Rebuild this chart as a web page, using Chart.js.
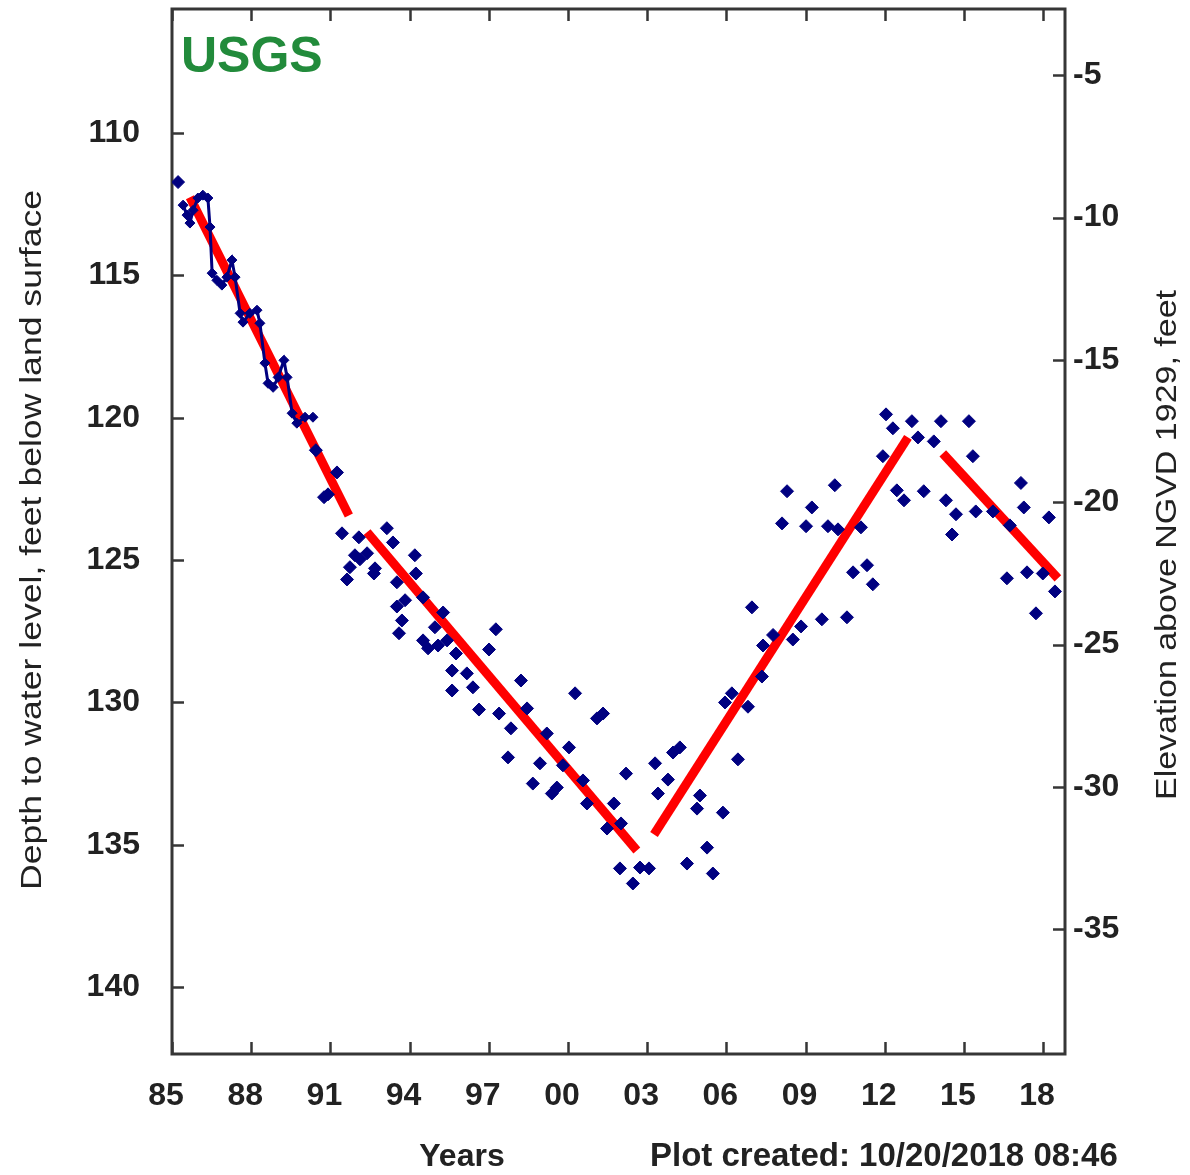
<!DOCTYPE html>
<html>
<head>
<meta charset="utf-8">
<script src="https://cdn.jsdelivr.net/npm/chart.js@4.4.1/dist/chart.umd.min.js"></script>
<style>
  body { margin: 0; background: #fff; }
  #wrap { width: 1190px; height: 1175px; }
</style>
</head>
<body>
<div id="wrap"><canvas id="chart" width="1190" height="1175"></canvas></div>
<script>
// Continuous recorder, 1985-1990 (year, depth below land surface in feet)
const recorderYears = [1985.42, 1985.57, 1985.68, 1985.80, 1985.98, 1986.17, 1986.36, 1986.44, 1986.52, 1986.70,
  1986.89, 1987.08, 1987.27, 1987.39, 1987.58, 1987.69, 1987.95, 1988.22, 1988.33, 1988.52,
  1988.64, 1988.83, 1989.02, 1989.24, 1989.36, 1989.55, 1989.73, 1990.04, 1990.34];
const recorderDepths = [112.53, 112.88, 113.16, 112.71, 112.28, 112.18, 112.28, 113.30, 114.92, 115.17,
  115.34, 115.06, 114.46, 115.06, 116.33, 116.64, 116.33, 116.22, 116.68, 118.08,
  118.79, 118.93, 118.58, 117.98, 118.58, 119.84, 120.19, 119.98, 119.98];

// Periodic field measurements
const fieldYears = [1985.23, 1990.45, 1991.25, 1990.76, 1990.91, 1991.44, 1992.08, 1993.14, 1993.37, 1991.93,
  1992.39, 1992.69, 1991.74, 1991.63, 1992.12, 1992.65, 1994.20, 1994.24, 1993.52, 1993.83,
  1993.52, 1993.71, 1993.60, 1994.51, 1995.27, 1994.96, 1994.51, 1994.70, 1995.08, 1995.42,
  1995.76, 1995.61, 1996.17, 1996.40, 1995.61, 1997.27, 1997.01, 1996.63, 1997.39, 1998.22,
  1998.45, 1997.84, 1997.73, 2000.27, 2001.10, 2001.33, 1999.20, 2000.04, 1998.94, 1999.81,
  1998.67, 1999.58, 1999.39, 2000.57, 2000.72, 2001.74, 2002.20, 2002.01, 2001.48, 2001.97,
  2002.73, 2003.07, 2002.46, 2003.30, 2004.24, 2003.98, 2003.79, 2003.41, 2005.00, 2004.89,
  2005.87, 2005.27, 2004.51, 2005.49, 2006.44, 2005.95, 2006.21, 2006.82, 2007.35, 2006.97,
  2007.77, 2007.39, 2012.05, 2012.31, 2013.03, 2013.26, 2013.86, 2014.13, 2015.19, 2015.34,
  2011.93, 2008.30, 2010.11, 2009.24, 2008.11, 2009.02, 2009.85, 2010.23, 2011.10, 2012.46,
  2012.73, 2013.48, 2014.32, 2014.70, 2014.55, 2015.45, 2016.10, 2016.74, 2017.16, 2017.27,
  2018.22, 2010.80, 2011.33, 2011.55, 2016.63, 2017.39, 2017.99, 2018.45, 2017.73, 2009.62,
  2010.57, 2008.83, 2008.52];
const fieldDepths = [111.72, 121.14, 121.92, 122.79, 122.69, 124.06, 124.20, 123.88, 124.38, 124.83,
  124.76, 125.29, 125.25, 125.68, 124.97, 125.47, 124.83, 125.47, 125.78, 126.41,
  126.63, 127.12, 127.57, 126.31, 126.84, 127.36, 127.82, 128.10, 128.00, 127.82,
  128.28, 128.88, 128.98, 129.47, 129.58, 127.43, 128.14, 130.25, 130.39, 129.23,
  130.21, 130.91, 131.93, 129.68, 130.56, 130.39, 131.09, 131.58, 132.14, 132.21,
  132.85, 132.99, 133.20, 132.74, 133.55, 133.55, 132.50, 134.25, 134.43, 135.83,
  135.80, 135.83, 136.36, 132.14, 131.58, 131.76, 132.71, 133.20, 133.27, 133.73,
  133.87, 135.10, 135.66, 136.01, 132.00, 130.00, 129.68, 130.15, 129.09, 126.66,
  127.63, 128.00, 119.88, 120.37, 120.12, 120.69, 120.83, 120.12, 120.12, 121.35,
  121.35, 122.58, 122.37, 123.15, 123.71, 123.81, 123.81, 123.92, 123.85, 122.55,
  122.90, 122.58, 122.90, 123.39, 124.10, 123.29, 123.29, 123.78, 122.29, 123.15,
  123.50, 125.43, 125.18, 125.85, 125.64, 125.43, 125.47, 126.10, 126.87, 127.08,
  127.01, 127.33, 127.79];

// Red trend segments: start and end of each one
const trendYears = [[1985.68, 1991.70], [1992.39, 2002.61], [2003.26, 2012.88], [2014.20, 2018.56]];
const trendDepths = [[112.25, 123.43], [124.02, 135.20], [134.64, 120.69], [121.25, 125.64]];

// Axes
const yearTicks = [1985, 1988, 1991, 1994, 1997, 2000, 2003, 2006, 2009, 2012, 2015, 2018];
const yearLabels = ["85", "88", "91", "94", "97", "00", "03", "06", "09", "12", "15", "18"];
const depthTicks = [110, 115, 120, 125, 130, 135, 140];
const elevationTicks = [-5, -10, -15, -20, -25, -30, -35];
const yearMin = 1985, yearMax = 2018.83;
const depthMin = 105.64, depthMax = 142.35;
const landSurface = 102.97; // land surface elevation above NGVD 1929, feet

const navy = "#000080";
const frameColor = "#363636";
const textColor = "#222";
const FONT = "'Liberation Sans', Arial, sans-serif";

const toPoints = (xs, ys) => xs.map((x, i) => ({ x: x, y: ys[i] }));

const datasets = [
  {
    label: "Recorder",
    data: toPoints(recorderYears, recorderDepths),
    showLine: true,
    borderColor: navy,
    backgroundColor: navy,
    borderWidth: 3,
    pointStyle: "rectRot",
    pointRadius: 5,
    pointBorderWidth: 1,
  },
  {
    label: "Measurements",
    data: toPoints(fieldYears, fieldDepths),
    showLine: false,
    borderColor: navy,
    backgroundColor: navy,
    pointStyle: "rectRot",
    pointRadius: 6.5,
    pointBorderWidth: 1,
  },
];

// one dataset per red trend segment
trendYears.forEach((xs, i) => {
  datasets.push({
    label: "Trend " + (i + 1),
    data: toPoints(xs, trendDepths[i]),
    showLine: true,
    borderColor: "#ff0000",
    borderWidth: 9,
    borderCapStyle: "butt",
    pointRadius: 0,
  });
});

// frame and inward tick marks on all four sides
const framePlugin = {
  id: "frame",
  beforeDatasetsDraw(chart) {
    const { ctx, chartArea: a, scales } = chart;
    const len = 12;
    ctx.save();
    ctx.strokeStyle = frameColor;
    ctx.lineWidth = 2.5;
    ctx.beginPath();
    yearTicks.forEach((v) => {
      const x = Math.round(scales.x.getPixelForValue(v)) + 0.5;
      ctx.moveTo(x, a.bottom); ctx.lineTo(x, a.bottom - len);
      ctx.moveTo(x, a.top); ctx.lineTo(x, a.top + len);
    });
    depthTicks.forEach((v) => {
      const y = Math.round(scales.y.getPixelForValue(v)) + 0.5;
      ctx.moveTo(a.left, y); ctx.lineTo(a.left + len, y);
    });
    elevationTicks.forEach((v) => {
      const y = Math.round(scales.y2.getPixelForValue(v)) + 0.5;
      ctx.moveTo(a.right, y); ctx.lineTo(a.right - len, y);
    });
    ctx.stroke();
    ctx.lineWidth = 3;
    ctx.strokeRect(a.left, a.top, a.right - a.left, a.bottom - a.top);
    ctx.restore();
  },
};

// rotated text stretched to a given length
function drawVertical(ctx, text, cx, cy, length) {
  ctx.save();
  ctx.translate(cx, cy);
  ctx.rotate(-Math.PI / 2);
  const w = ctx.measureText(text).width;
  ctx.scale(length / w, 1);
  ctx.fillText(text, 0, 0);
  ctx.restore();
}

const textPlugin = {
  id: "texts",
  afterDraw(chart) {
    const ctx = chart.ctx;
    ctx.save();
    ctx.textBaseline = "middle";
    ctx.textAlign = "center";
    ctx.fillStyle = textColor;
    ctx.font = "30px " + FONT;
    drawVertical(ctx, "Depth to water level, feet below land surface", 33, 540, 700);
    drawVertical(ctx, "Elevation above NGVD 1929, feet", 1168, 545, 510);

    ctx.font = "bold 32px " + FONT;
    ctx.fillText("Years", 462, 1157);
    ctx.textAlign = "left";
    ctx.font = "bold 33px " + FONT;
    ctx.fillText("Plot created: 10/20/2018 08:46", 650, 1157);

    ctx.fillStyle = "#228b3b";
    ctx.font = "bold 50px " + FONT;
    ctx.textBaseline = "alphabetic";
    ctx.fillText("USGS", 181, 72);
    ctx.restore();
  },
};

const tickFont = { family: FONT, size: 32, weight: "bold" };

new Chart(document.getElementById("chart"), {
  type: "scatter",
  data: { datasets: datasets },
  options: {
    responsive: false,
    animation: false,
    devicePixelRatio: 1,
    layout: { padding: { top: 9, left: 0, right: 0, bottom: 0 } },
    plugins: { legend: { display: false }, tooltip: { enabled: false } },
    scales: {
      x: {
        type: "linear",
        min: yearMin,
        max: yearMax,
        grid: { display: false, drawTicks: false },
        border: { display: false },
        afterBuildTicks: (s) => { s.ticks = yearTicks.map((v) => ({ value: v })); },
        ticks: {
          autoSkip: false,
          maxRotation: 0,
          padding: 23,
          labelOffset: -6,
          color: textColor,
          font: tickFont,
          callback: (v, i) => yearLabels[i],
        },
        afterFit: (s) => { s.height = 121; },
      },
      y: {
        position: "left",
        reverse: true,
        min: depthMin,
        max: depthMax,
        grid: { display: false, drawTicks: false },
        border: { display: false },
        afterBuildTicks: (s) => { s.ticks = depthTicks.map((v) => ({ value: v })); },
        ticks: { padding: 32, color: textColor, font: tickFont },
        afterFit: (s) => { s.width = 172; s.paddingTop = 0; s.paddingBottom = 0; },
      },
      y2: {
        position: "right",
        min: landSurface - depthMax,
        max: landSurface - depthMin,
        grid: { display: false, drawTicks: false },
        border: { display: false },
        afterBuildTicks: (s) => { s.ticks = elevationTicks.map((v) => ({ value: v })); },
        ticks: { padding: 8, color: textColor, font: tickFont },
        afterFit: (s) => { s.width = 125; s.paddingTop = 0; s.paddingBottom = 0; },
      },
    },
  },
  plugins: [framePlugin, textPlugin],
});
</script>
</body>
</html>
